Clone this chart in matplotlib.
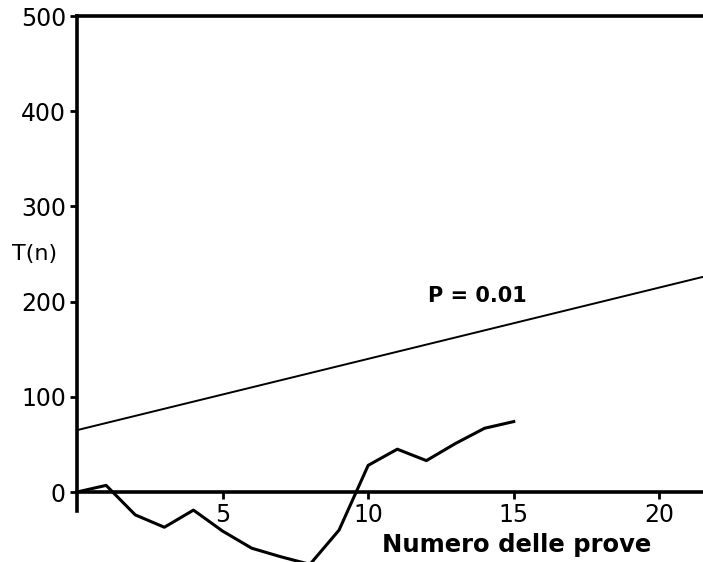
import matplotlib.pyplot as plt

# T(n) random walk over the trials
trials = [0, 1, 2, 3, 4, 5, 6, 7, 8, 9, 10, 11, 12, 13, 14, 15]
t_values = [0, 7, -24, -37, -19, -41, -59, -68, -76, -40, 28, 45, 33, 51, 67, 74]

# significance threshold P = 0.01
p_x = [0, 21.5]
p_y = [65, 226]

x_ticks = [5, 10, 15, 20]
y_ticks = [0, 100, 200, 300, 400, 500]


def main():
    fig = plt.figure(figsize=(7.03, 5.62), dpi=100)
    ax = fig.add_axes([77 / 703, 0, 1 - 77 / 703, (562 - 16) / 562])

    ax.plot(trials, t_values, color='black', linewidth=2.2)
    ax.plot(p_x, p_y, color='black', linewidth=1.4)

    ax.set_xlim(0, 21.5)
    ax.set_ylim(-73.5, 500)

    ax.spines['right'].set_visible(False)
    ax.spines['bottom'].set_position(('data', 0))
    ax.spines['left'].set_bounds(-20, 500)
    for spine in ax.spines.values():
        spine.set_linewidth(2.6)

    ax.set_xticks(x_ticks)
    ax.set_yticks(y_ticks)
    ax.tick_params(direction='out', length=5, width=2, labelsize=17, pad=3)
    for lbl in ax.get_xticklabels() + ax.get_yticklabels():
        lbl.set_fontweight('medium')

    ax.text(-1.45, 250, 'T(n)', ha='center', va='center', fontsize=16,
            clip_on=False)
    ax.text(13.75, 206, 'P = 0.01', ha='center', va='center', fontsize=15,
            fontweight='bold')
    ax.text(15.1, -56, 'Numero delle prove', ha='center', va='center',
            fontsize=17.5, fontweight='bold')

    fig.savefig('out.png', dpi=100)


if __name__ == '__main__':
    main()
